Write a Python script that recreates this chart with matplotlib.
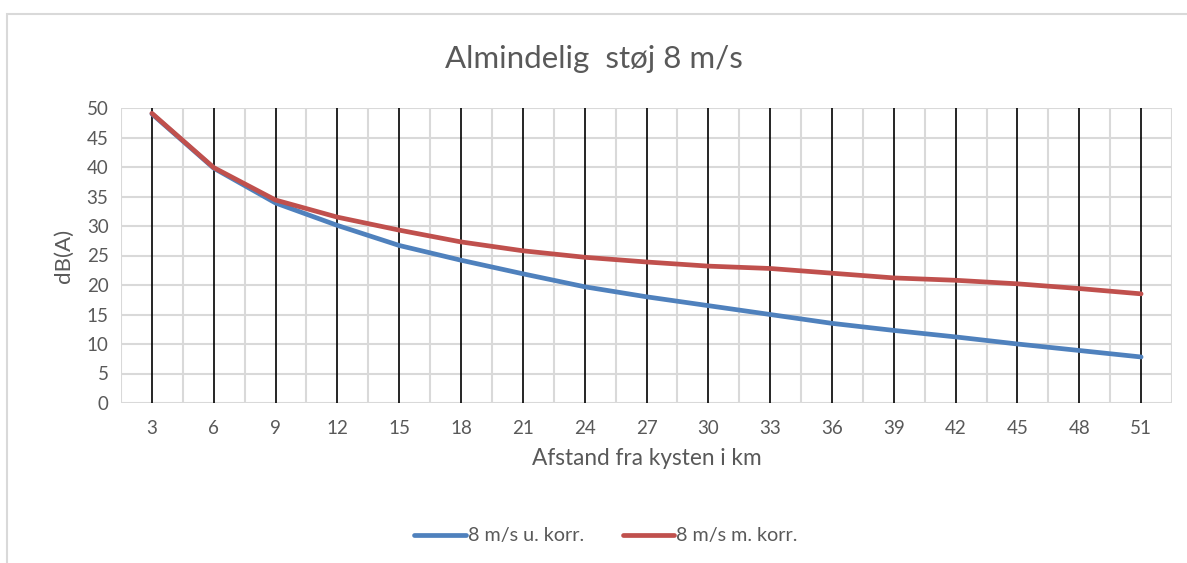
import numpy as np
import matplotlib.pyplot as plt
from matplotlib.patches import Rectangle

# Distance from the coast (km) and noise levels dB(A)
distances = [3, 6, 9, 12, 15, 18, 21, 24, 27, 30, 33, 36, 39, 42, 45, 48, 51]
u_korr = [49.0, 39.8, 33.9, 30.1, 26.7, 24.2, 21.9, 19.7, 18.0, 16.5, 15.0,
          13.5, 12.3, 11.2, 10.0, 8.9, 7.8]
m_korr = [49.1, 39.9, 34.4, 31.5, 29.3, 27.3, 25.8, 24.7, 23.9, 23.2, 22.8,
          22.0, 21.2, 20.8, 20.2, 19.4, 18.5]

BLUE = "#4F81BD"
RED = "#C0504D"
TEXT = "#595959"
GRID = "#D9D9D9"

plt.rcParams["font.family"] = ["Lato", "DejaVu Sans"]

fig = plt.figure(figsize=(11.87, 5.63), dpi=100)
ax = fig.add_axes([121 / 1187, 160 / 563, (1172 - 121) / 1187, 295 / 563])

# light chart-area border, running off the right and bottom edges
fig.patches.append(Rectangle((7 / 1187, -0.1), 1.2, (563 - 14) / 563 + 0.1,
                             transform=fig.transFigure, fill=False,
                             edgecolor=GRID, lw=1.5))

x = np.arange(len(distances))
ax.set_xlim(-0.5, len(distances) - 0.5)
ax.set_ylim(0, 50)

# grey grid between categories and on every 5 dB
for b in np.arange(-0.5, len(distances), 1.0):
    ax.axvline(b, color=GRID, lw=1.5, zorder=1)
for yv in range(0, 51, 5):
    ax.axhline(yv, color=GRID, lw=1.5, zorder=1)
# black lines at each category
for xi in x:
    ax.axvline(xi, color="black", lw=1.2, zorder=2)

ax.plot(x, u_korr, color=BLUE, lw=3.4, solid_capstyle="round",
        solid_joinstyle="round", label="8 m/s u. korr.", zorder=3)
ax.plot(x, m_korr, color=RED, lw=3.4, solid_capstyle="round",
        solid_joinstyle="round", label="8 m/s m. korr.", zorder=4)

for s in ax.spines.values():
    s.set_visible(False)

ax.set_xticks(x, [str(d) for d in distances])
ax.set_yticks(range(0, 51, 5))
ax.tick_params(length=0, labelsize=13.5, colors=TEXT, pad=12)
ax.tick_params(axis="y", pad=9)

ax.set_xlabel("Afstand fra kysten i km", fontsize=16.3, color=TEXT, labelpad=8)
ax.set_ylabel("dB(A)", fontsize=16, color=TEXT, labelpad=9)
fig.text(0.5, 1 - 59 / 563, "Almindelig  støj 8 m/s", ha="center", va="center",
         fontsize=22.5, color=TEXT)

leg = fig.legend(loc="center", bbox_to_anchor=(606 / 1187, 1 - 536 / 563),
                 ncol=2, frameon=False, fontsize=14.2, handlelength=2.6,
                 handletextpad=0.1, columnspacing=2.0)
for t in leg.get_texts():
    t.set_color(TEXT)

fig.savefig("out.png", dpi=100)
